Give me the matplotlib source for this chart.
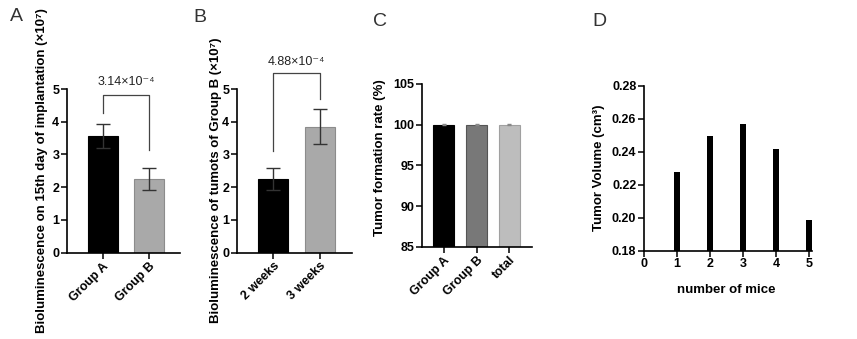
import matplotlib.pyplot as plt

plt.rcParams['font.family'] = ['Liberation Sans', 'DejaVu Sans']

# panel A
a_groups = ["Group A", "Group B"]
a_means = [3.57, 2.25]
a_errs = [0.37, 0.33]
a_colors = ["#000000", "#a9a9a9"]
a_p = "3.14×10⁻⁴"

# panel B
b_groups = ["2 weeks", "3 weeks"]
b_means = [2.25, 3.85]
b_errs = [0.33, 0.54]
b_colors = ["#000000", "#a9a9a9"]
b_p = "4.88×10⁻⁴"

# panel C
c_groups = ["Group A", "Group B", "total"]
c_rates = [100, 100, 100]
c_colors = ["#000000", "#787878", "#bdbdbd"]

# panel D
d_mice = [1, 2, 3, 4, 5]
d_volume = [0.2275, 0.2493, 0.2566, 0.2418, 0.1986]

W, H = 857, 339
LAB = 9.5
TICK = 9
fig = plt.figure(figsize=(W / 100, H / 100), dpi=100)


def px(l, r, t, b):
    return [l / W, 1 - b / H, (r - l) / W, (b - t) / H]


def style(ax):
    for s in ["top", "right"]:
        ax.spines[s].set_visible(False)
    for s in ["left", "bottom"]:
        ax.spines[s].set_linewidth(1.2)
    ax.tick_params(width=1.1, length=4, labelsize=TICK, pad=1.5)
    for lab in ax.get_xticklabels() + ax.get_yticklabels():
        lab.set_fontweight("bold")


def bracket(ax, x0, x1, top, y0, y1, text, ty):
    ax.plot([x0, x0, x1, x1], [y0, top, top, y1], color="#444444", lw=0.9,
            clip_on=False)
    ax.text((x0 + x1) / 2, ty, text, ha="center", va="center", fontsize=9,
            color="#222222", clip_on=False)


def bar_panel(ax, groups, means, errs, colors):
    x = range(len(groups))
    for i in x:
        ec = "#000000" if colors[i] == "#000000" else "#8c8c8c"
        ax.bar(i, means[i], width=0.64, color=colors[i], edgecolor=ec, lw=0.8)
        ax.errorbar(i, means[i], yerr=errs[i], fmt="none", ecolor="#333333",
                    elinewidth=1, capsize=5, capthick=1)
    ax.set_xticks(list(x))
    ax.set_xticklabels(groups, rotation=45, ha="right", rotation_mode="anchor")


# A
axA = fig.add_axes(px(67, 180, 89, 252.5))
bar_panel(axA, a_groups, a_means, a_errs, a_colors)
axA.set_xlim(-0.766, 1.659)
axA.set_ylim(0, 5)
axA.set_yticks(range(6))
axA.set_ylabel("Bioluminescence on 15th day of implantation (×10⁷)",
               fontsize=LAB, fontweight="bold")
axA.yaxis.set_label_coords(-0.168, 0.5)
bracket(axA, 0, 1, 4.82, 4.28, 3.14, a_p, 5.2)
style(axA)

# B
axB = fig.add_axes(px(237, 352, 89, 252.5))
bar_panel(axB, b_groups, b_means, b_errs, b_colors)
axB.set_xlim(-0.777, 1.685)
axB.set_ylim(0, 5)
axB.set_yticks(range(6))
axB.set_ylabel("Bioluminescence of tumots of Group B (×10⁷)",
               fontsize=LAB, fontweight="bold")
axB.yaxis.set_label_coords(-0.13, 0.44)
bracket(axB, 0, 1, 5.49, 3.09, 4.69, b_p, 5.83)
style(axB)

# C
axC = fig.add_axes(px(422, 531.7, 84, 246.7))
for i, v in enumerate(c_rates):
    ec = "#000000" if i == 0 else ("#555555" if i == 1 else "#a0a0a0")
    axC.bar(i, v, width=0.64, color=c_colors[i], edgecolor=ec, lw=0.8)
    axC.errorbar(i, v, yerr=0.05, fmt="none", ecolor="#888888",
                 elinewidth=0.6, capsize=1.5)
axC.set_xticks(range(len(c_groups)))
axC.set_xticklabels(c_groups, rotation=45, ha="right", rotation_mode="anchor")
axC.set_xlim(-0.66, 2.675)
axC.set_ylim(85, 105)
axC.set_yticks([85, 90, 95, 100, 105])
axC.set_ylabel("Tumor formation rate (%)", fontsize=LAB, fontweight="bold")
axC.yaxis.set_label_coords(-0.33, 0.55)
style(axC)

# D
axD = fig.add_axes(px(644, 811.7, 85.7, 250.7))
axD.bar(d_mice, [v - 0.18 for v in d_volume], bottom=0.18, width=0.18,
        color="#000000")
axD.set_xlim(0, 5.08)
axD.set_ylim(0.18, 0.28)
axD.set_xticks(range(6))
axD.set_yticks([0.18, 0.20, 0.22, 0.24, 0.26, 0.28])
axD.set_yticklabels(["0.18", "0.20", "0.22", "0.24", "0.26", "0.28"])
axD.set_ylabel("Tumor Volume (cm³)", fontsize=LAB, fontweight="bold")
axD.yaxis.set_label_coords(-0.233, 0.5)
axD.set_xlabel("number of mice", fontsize=LAB, fontweight="bold")
axD.xaxis.set_label_coords(0.49, -0.2)
style(axD)

# panel letters
for letter, x, y in [("A", 10, 8), ("B", 193, 9), ("C", 373, 13), ("D", 592, 13)]:
    fig.text(x / W, 1 - y / H, letter, ha="left", va="top", fontsize=14,
             color="#333333")

fig.savefig("out.png", dpi=100)
